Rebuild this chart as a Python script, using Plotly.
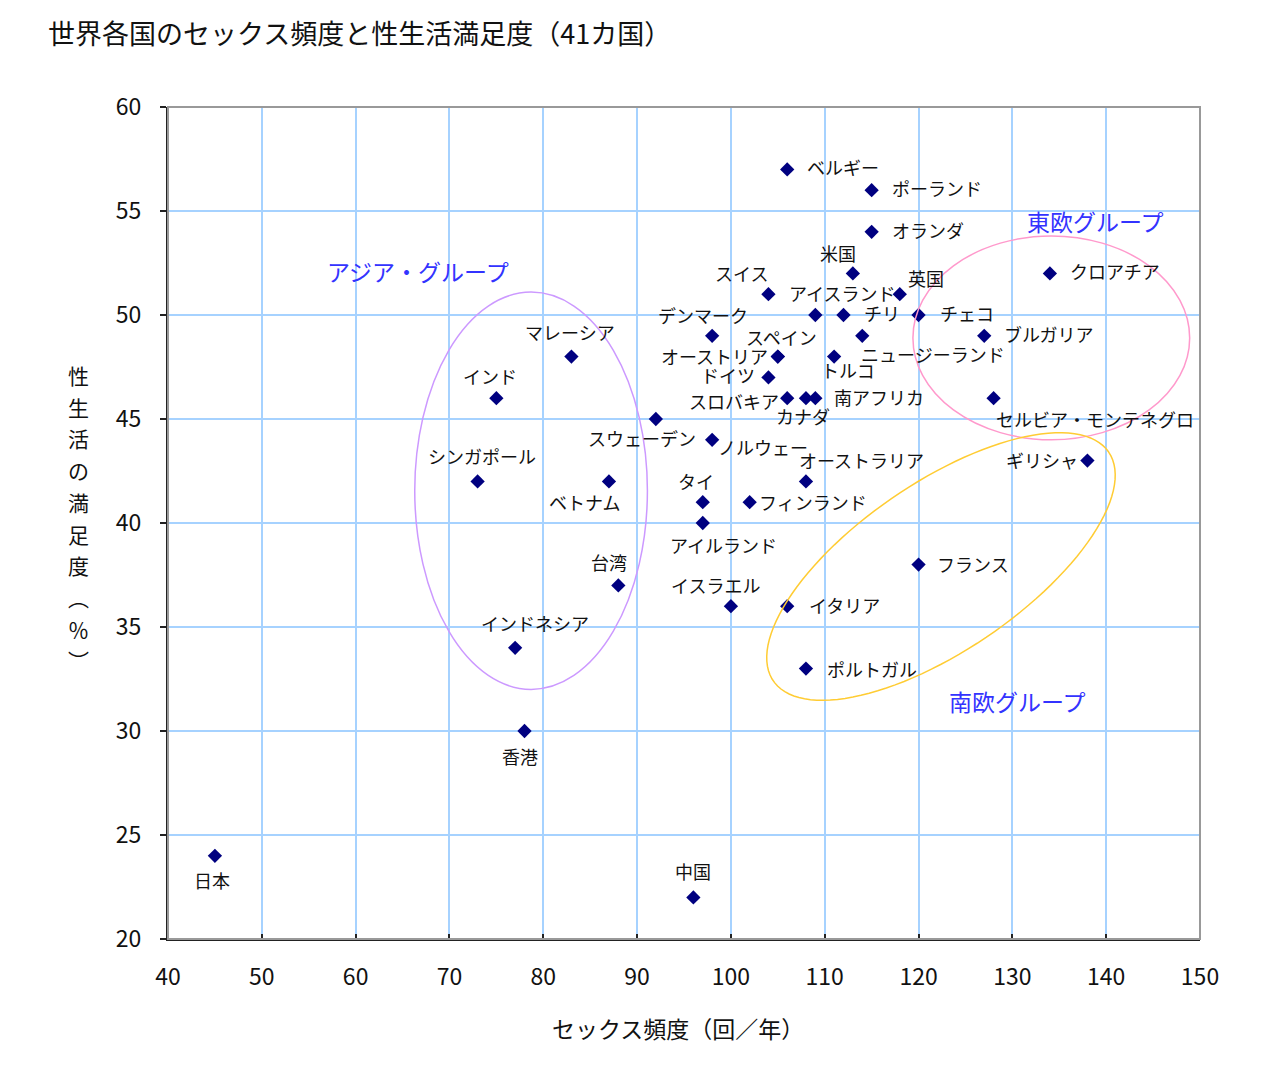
import numpy as np
import plotly.graph_objects as go

countries = ["ベルギー", "ポーランド", "オランダ", "米国", "スイス", "英国", "アイスランド", "チリ", "チェコ",
             "クロアチア", "デンマーク", "スペイン", "オーストリア", "ニュージーランド", "トルコ", "ブルガリア",
             "ドイツ", "スロバキア", "カナダ", "南アフリカ", "セルビア・モンテネグロ", "スウェーデン", "ノルウェー",
             "マレーシア", "インド", "シンガポール", "ベトナム", "オーストラリア", "タイ", "フィンランド",
             "アイルランド", "台湾", "イスラエル", "イタリア", "フランス", "ポルトガル", "ギリシャ",
             "インドネシア", "香港", "日本", "中国"]
frequency = [106, 115, 115, 113, 104, 118, 109, 112, 120,
             134, 98, 105, 105, 114, 111, 127,
             104, 106, 108, 109, 128, 92, 98,
             83, 75, 73, 87, 108, 97, 102,
             97, 88, 100, 106, 120, 108, 138,
             77, 78, 45, 96]
satisfaction = [57, 56, 54, 52, 51, 51, 50, 50, 50,
                52, 49, 48, 48, 49, 48, 49,
                47, 46, 46, 46, 46, 45, 44,
                48, 46, 42, 42, 42, 41, 41,
                40, 37, 36, 36, 38, 33, 43,
                34, 30, 24, 22]

x_ticks = [40, 50, 60, 70, 80, 90, 100, 110, 120, 130, 140, 150]
y_ticks = [20, 25, 30, 35, 40, 45, 50, 55, 60]

# label placement (anchor, x shift px, y shift px)
label_pos = {
    "ベルギー": ("left", 18, 2), "ポーランド": ("left", 18, 2), "オランダ": ("left", 18, 2),
    "米国": ("center", -15, 20), "スイス": ("center", -27, 21), "英国": ("center", 26, 16),
    "アイスランド": ("center", 27, 22), "チリ": ("left", 19, 2), "チェコ": ("left", 19, 2),
    "クロアチア": ("left", 18, 2), "デンマーク": ("center", -9, 21), "スペイン": ("center", 4, 20),
    "オーストリア": ("right", -8, 1), "ニュージーランド": ("center", 71, -18), "トルコ": ("center", 14, -13),
    "ブルガリア": ("left", 18, 2), "ドイツ": ("right", -11, 2), "スロバキア": ("right", -6, -3),
    "カナダ": ("center", -3, -18), "南アフリカ": ("left", 17, 1), "セルビア・モンテネグロ": ("center", 101, -21),
    "スウェーデン": ("center", -14, -19), "ノルウェー": ("left", 4, -7), "マレーシア": ("center", -1, 25),
    "インド": ("center", -6, 22), "シンガポール": ("center", 4, 25), "ベトナム": ("center", -24, -21),
    "オーストラリア": ("center", 56, 21), "タイ": ("center", -7, 21), "フィンランド": ("left", 7, 0),
    "アイルランド": ("center", 21, -22), "台湾": ("center", -9, 23), "イスラエル": ("center", -15, 21),
    "イタリア": ("left", 20, 1), "フランス": ("left", 16, 1), "ポルトガル": ("left", 19, 0),
    "ギリシャ": ("right", -7, 1), "インドネシア": ("center", 20, 25), "香港": ("center", -5, -25),
    "日本": ("center", -3, -24), "中国": ("center", 0, 26),
}

FONT = "Noto Sans CJK JP"
# page has an 8px body margin, so the figure is slightly smaller than the window
W, H = 1248, 1060
ML, MT = 160, 99
PW, PH = 1032, 832
MR, MB = W - ML - PW, H - MT - PH
XR, YR = (40, 150), (20, 60)
xs = PW / (XR[1] - XR[0])
ys = PH / (YR[1] - YR[0])

fig = go.Figure()
fig.add_trace(go.Scatter(
    x=frequency, y=satisfaction, mode="markers",
    marker=dict(symbol="diamond", size=11, color="#000080"),
    hovertext=countries, showlegend=False, cliponaxis=False,
))

annotations = []
for name, fx, sy in zip(countries, frequency, satisfaction):
    anc, dx, dy = label_pos[name]
    annotations.append(dict(x=fx, y=sy, xref="x", yref="y", text=name, showarrow=False,
                            xanchor=anc, yanchor="middle", xshift=dx, yshift=dy,
                            font=dict(family=FONT, size=18, color="#111111")))

groups = [("アジア・グループ", 66.65, 52.1), ("東欧グループ", 138.9, 54.5), ("南欧グループ", 130.6, 31.44)]
for t, gx, gy in groups:
    annotations.append(dict(x=gx, y=gy, xref="x", yref="y", text=t, showarrow=False,
                            xanchor="center", yanchor="middle",
                            font=dict(family=FONT, size=23, color="#3333ff")))

# y-axis title, vertical with upright characters (one annotation per character)
ytitle = "性生活の満足度︵％︶"
for i, ch in enumerate(ytitle):
    page_y = 375 + 31.7 * i
    annotations.append(dict(x=-0.0872, y=(939 - page_y) / PH, xref="paper", yref="paper",
                            text=ch, showarrow=False, xanchor="center", yanchor="middle",
                            font=dict(family=FONT, size=21, color="#111111")))
annotations.append(dict(x=0.4942, y=-0.107, xref="paper", yref="paper",
                        text="セックス頻度（回／年）", showarrow=False,
                        xanchor="center", yanchor="middle",
                        font=dict(family=FONT, size=23, color="#111111")))

shapes = []
shapes.append(dict(type="rect", xref="paper", yref="paper", x0=0, x1=1, y0=0, y1=1,
                   line=dict(color="#999999", width=2), layer="above"))
shapes.append(dict(type="circle", xref="x", yref="y", x0=66.3, x1=91.1, y0=32.0, y1=51.1,
                   line=dict(color="#cc99ff", width=1.5)))
shapes.append(dict(type="circle", xref="x", yref="y", x0=119.4, x1=148.9, y0=44.0, y1=53.8,
                   line=dict(color="#ff99cc", width=1.5)))
cx, cy = 122.39, 37.91
a, b, th = 203.0, 84.0, np.deg2rad(34.3)
t = np.linspace(0, 2 * np.pi, 120)
px = a * np.cos(t) * np.cos(th) - b * np.sin(t) * np.sin(th)
py = a * np.cos(t) * np.sin(th) + b * np.sin(t) * np.cos(th)
ex = cx + px / xs
ey = cy + py / ys
path = "M " + " L ".join(f"{u:.4f},{v:.4f}" for u, v in zip(ex, ey)) + " Z"
shapes.append(dict(type="path", xref="x", yref="y", path=path,
                   line=dict(color="#ffcc33", width=1.5)))

fig.update_layout(
    width=W, height=H,
    margin=dict(l=ML, r=MR, t=MT, b=MB, pad=0),
    paper_bgcolor="white", plot_bgcolor="white",
    title=dict(text="世界各国のセックス頻度と性生活満足度（41カ国）", x=40 / W, xanchor="left",
               y=1 - 27 / H, yanchor="middle", font=dict(family=FONT, size=27, color="#111111")),
    font=dict(family=FONT, color="#111111"),
    annotations=annotations, shapes=shapes,
    xaxis=dict(range=XR, tickvals=x_ticks, ticktext=[str(v) for v in x_ticks],
               showgrid=True, gridcolor="#a6d2ff", gridwidth=2, zeroline=False,
               showline=True, linecolor="#222222", linewidth=2,
               ticks="inside", ticklen=5, tickcolor="#222222", tickwidth=2,
               tickfont=dict(family=FONT, size=23, color="#111111"), ticklabelstandoff=16),
    yaxis=dict(range=YR, tickvals=y_ticks, ticktext=[str(v) for v in y_ticks],
               showgrid=True, gridcolor="#a6d2ff", gridwidth=2, zeroline=False,
               showline=True, linecolor="#222222", linewidth=2,
               ticks="outside", ticklen=6, tickcolor="#222222", tickwidth=2,
               tickfont=dict(family=FONT, size=23, color="#111111"), ticklabelstandoff=14),
)

fig.write_html("out.html")
